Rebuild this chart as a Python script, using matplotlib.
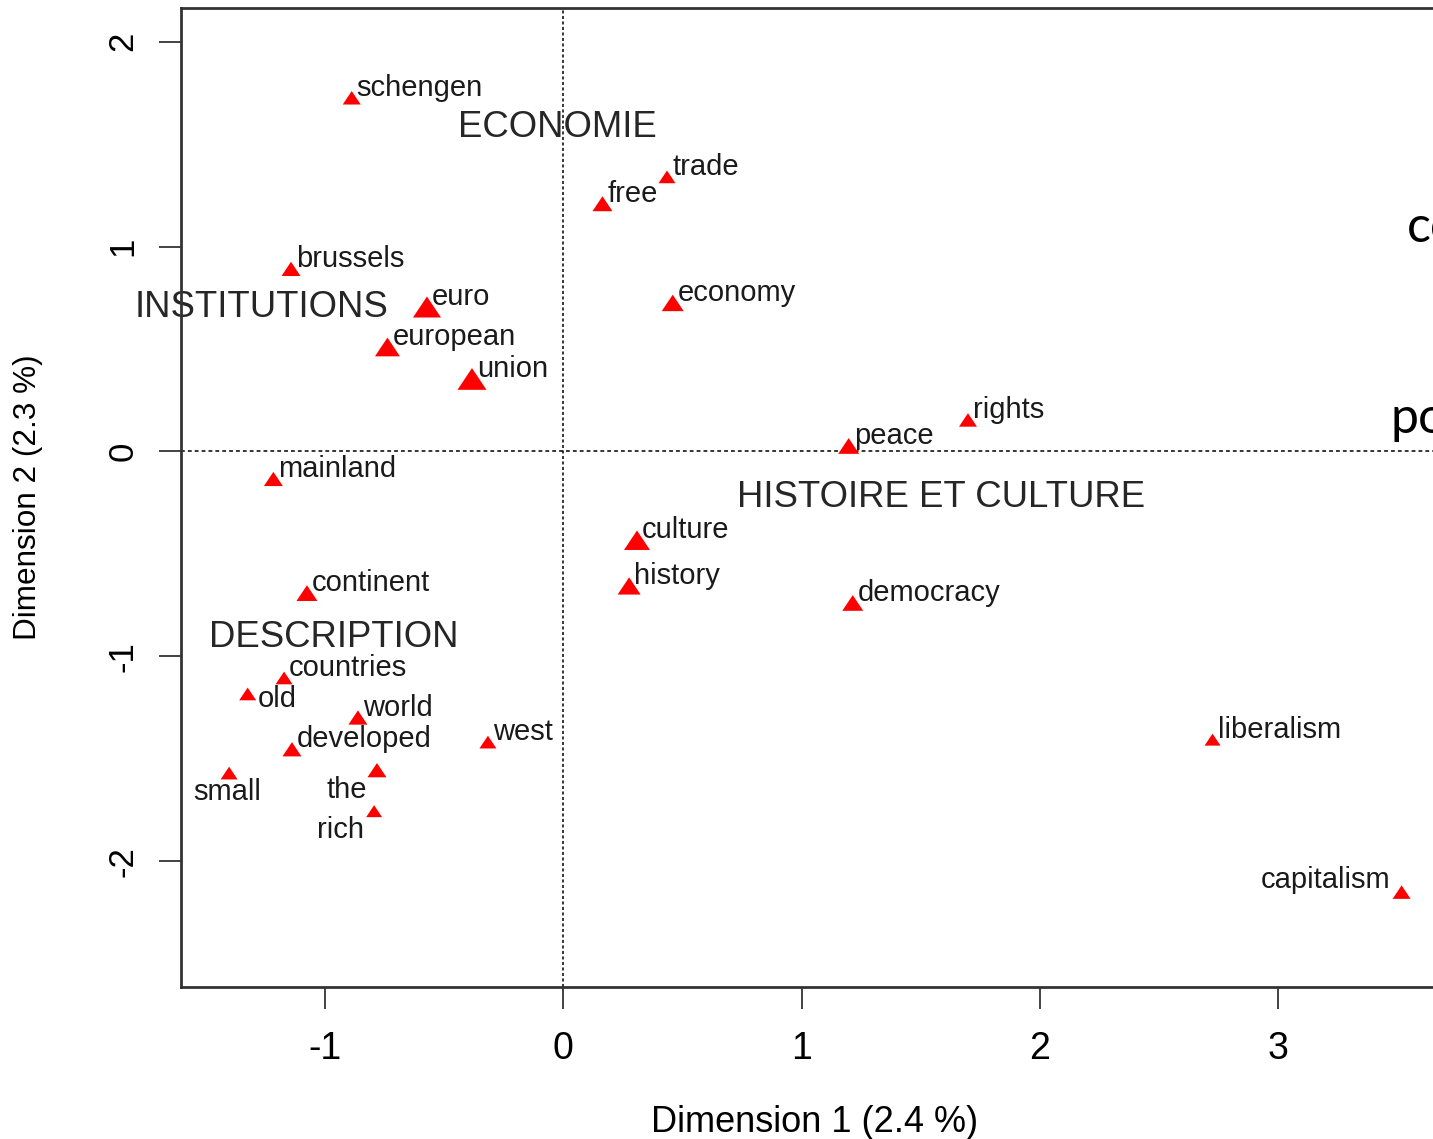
import matplotlib
matplotlib.use("Agg")
import matplotlib.pyplot as plt

# correspondence analysis map, word coordinates
words = ["schengen", "free", "trade", "brussels", "euro", "european", "union",
         "economy", "rights", "peace", "mainland", "culture", "history",
         "democracy", "continent", "countries", "old", "world", "developed",
         "west", "small", "the", "rich", "liberalism", "capitalism"]
dim1 = [-0.889, 0.164, 0.435, -1.144, -0.573, -0.739, -0.384,
        0.459, 1.699, 1.198, -1.218, 0.309, 0.276,
        1.215, -1.077, -1.173, -1.326, -0.863, -1.140,
        -0.317, -1.404, -0.783, -0.795, 2.726, 3.520]
dim2 = [1.726, 1.209, 1.340, 0.891, 0.705, 0.510, 0.354,
        0.725, 0.154, 0.027, -0.134, -0.433, -0.656,
        -0.739, -0.691, -1.105, -1.183, -1.298, -1.453,
        -1.418, -1.569, -1.555, -1.755, -1.406, -2.150]
# triangle widths as drawn (bigger = heavier word)
weight = [18, 20, 17, 19, 28, 25, 29, 22, 18, 21, 19, 26, 23,
          21, 21, 17, 17, 19, 19, 17, 17, 19, 16, 16, 18]

groups = ["ECONOMIE", "INSTITUTIONS", "HISTOIRE ET CULTURE", "DESCRIPTION"]
group_x = [-0.443, -1.799, 0.728, -1.488]
group_y = [1.535, 0.655, -0.269, -0.953]

xticks = [-1, 0, 1, 2, 3]
yticks = [-2, -1, 0, 1, 2]
xlab = "Dimension 1 (2.4 %)"
ylab = "Dimension 2 (2.3 %)"

W, H, DPI = 1433, 1139, 100
PT = 72.0 / DPI  # points per pixel

# label placement in pixels (dx, dy, ha); default sits up-right of the mark
DEFAULT_POS = (5, 2, "left")
LABEL_POS = {
    "old": (10, -13, "left"),
    "small": (-2, -27, "center"),
    "the": (-10, -28, "right"),
    "rich": (-10, -27, "right"),
    "capitalism": (-11, 4, "right"),
}

AXIS_FONT = ["Liberation Sans", "DejaVu Sans"]
TEXT_FONT = ["Liberation Sans", "DejaVu Sans"]

fig = plt.figure(figsize=(W / DPI, H / DPI), dpi=DPI)
ax = fig.add_axes([181 / W, (H - 987) / H, 1268 / W, 979 / H])
ax.set_xlim(-1.606, 3.719)
ax.set_ylim(-2.613, 2.164)

ax.axhline(0, color="black", lw=1.1, ls=(0, (2.5, 2)), zorder=1.5)
ax.axvline(0, color="black", lw=1.1, ls=(0, (2.0, 1.6)), zorder=1.5)

tri = [(0, 0.75), (-1, -0.75), (1, -0.75)]
ax.scatter(dim1, dim2, s=[(w * PT) ** 2 for w in weight], marker=tri,
           color="#ff0000", linewidths=0, zorder=3)

for w, x, y in zip(words, dim1, dim2):
    dx, dy, ha = LABEL_POS.get(w, DEFAULT_POS)
    ax.annotate(w, (x, y), xytext=(dx * PT, dy * PT), textcoords="offset points",
                ha=ha, va="baseline", fontsize=21, family=TEXT_FONT,
                color="#1a1a1a", zorder=4)

for g, x, y in zip(groups, group_x, group_y):
    ax.text(x, y, g, ha="left", va="baseline", fontsize=26.3, family=TEXT_FONT,
            color="#262626", zorder=1, clip_on=False)

ax.set_xticks(xticks)
ax.set_yticks(yticks)
ax.set_xticklabels([str(t) for t in xticks], fontsize=27)
ax.set_yticklabels([str(t) for t in yticks], rotation=90, va="center",
                   fontsize=25)
ax.tick_params(axis="both", length=22 * PT, width=1.2, color="#222222")
ax.tick_params(axis="x", pad=15.5)
ax.tick_params(axis="y", pad=14)
for t in ax.get_xticklabels() + ax.get_yticklabels():
    t.set_family(AXIS_FONT)
for s in ax.spines.values():
    s.set_linewidth(2.0)
    s.set_color("#333333")

ax.set_xlabel(xlab, fontsize=26, family=AXIS_FONT, va="center")
ax.set_ylabel(ylab, fontsize=22.7, family=AXIS_FONT, va="center")
ax.xaxis.set_label_coords((815 - 181) / 1268, -(1122 - 987) / 979)
ax.yaxis.set_label_coords(-(181 - 28) / 1268, 0.5)

# slide text overlaid on the right edge, cut off by the crop
fig.text(1407 / W, 1 - 242 / H, "co", fontsize=36, family=["Lato", "DejaVu Sans"],
         color="black", ha="left", va="baseline")
fig.text(1390 / W, 1 - 433 / H, "po", fontsize=36, family=["Lato", "DejaVu Sans"],
         color="black", ha="left", va="baseline")

fig.savefig("out.png", dpi=DPI)
